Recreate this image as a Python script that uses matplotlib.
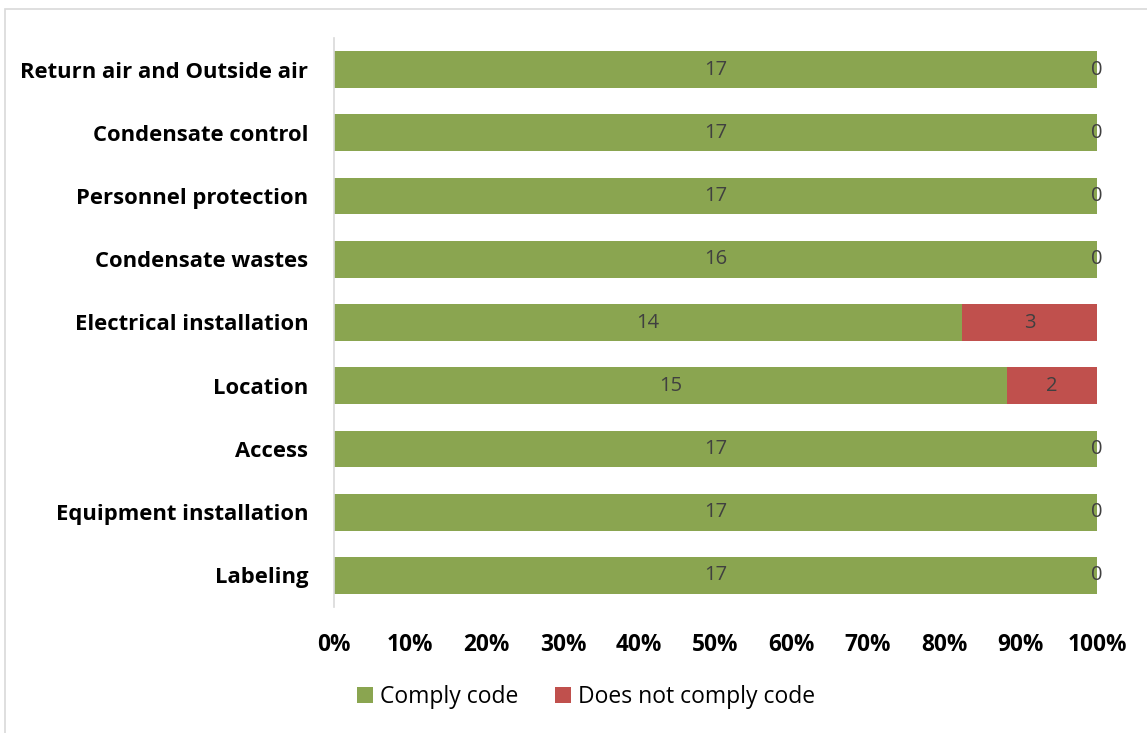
import matplotlib
matplotlib.use("Agg")
import matplotlib.pyplot as plt
from matplotlib.patches import Rectangle
import numpy as np

categories = ["Labeling", "Equipment installation", "Access", "Location",
              "Electrical installation", "Condensate wastes", "Personnel protection",
              "Condensate control", "Return air and Outside air"]
comply = [17, 17, 17, 15, 14, 16, 17, 17, 17]
not_comply = [0, 0, 0, 2, 3, 0, 0, 0, 0]
tick_labels = ["0%", "10%", "20%", "30%", "40%", "50%", "60%", "70%", "80%", "90%", "100%"]

GREEN = "#8AA550"
RED = "#C0504D"
LABEL_GRAY = "#404040"

plt.rcParams["font.family"] = ["Open Sans", "DejaVu Sans"]

fig = plt.figure(figsize=(11.47, 7.33), dpi=100)
fig.patches.append(Rectangle((5 / 1147, -0.05), 1.2, 1 - 9 / 733 + 0.05,
                             transform=fig.transFigure, fill=False,
                             edgecolor="#D9D9D9", linewidth=1.2))
ax = fig.add_axes([334 / 1147, 1 - 607 / 733, (1097 - 334) / 1147, (607 - 38) / 733])

comply = np.array(comply, dtype=float)
not_comply = np.array(not_comply, dtype=float)
total = comply + not_comply
c_share = comply / total
n_share = not_comply / total
y = np.arange(len(categories))

bars_c = ax.barh(y, c_share, height=0.58, color=GREEN, label="Comply code")
bars_n = ax.barh(y, n_share, left=c_share, height=0.58, color=RED, label="Does not comply code")

for i in range(len(categories)):
    ax.text(c_share[i] / 2, y[i], f"{int(comply[i])}", ha="center", va="center",
            fontsize=14.5, color=LABEL_GRAY)
    ax.text(c_share[i] + n_share[i] / 2, y[i], f"{int(not_comply[i])}", ha="center",
            va="center", fontsize=14.5, color=LABEL_GRAY)

ax.set_xlim(0, 1)
ax.set_ylim(-0.5, len(categories) - 0.5)
ax.set_xticks(np.linspace(0, 1, 11))
ax.set_xticklabels(tick_labels, fontsize=16.3, fontweight="bold")
ax.set_yticks(y)
ax.set_yticklabels(categories, fontsize=15.8, fontweight="bold")
ax.tick_params(axis="both", length=0)
ax.tick_params(axis="x", pad=19)
ax.tick_params(axis="y", pad=18.5)
for s in ["top", "right", "bottom"]:
    ax.spines[s].set_visible(False)
ax.spines["left"].set_color("#D9D9D9")
ax.spines["left"].set_linewidth(1.2)

fig.legend(handles=[bars_c, bars_n], loc="center", bbox_to_anchor=(586 / 1147, 1 - 697 / 733),
           ncol=2, frameon=False, fontsize=16.5, handlelength=0.72, handleheight=0.72,
           handletextpad=0.3, columnspacing=1.6)

fig.savefig("out.png", dpi=100)
